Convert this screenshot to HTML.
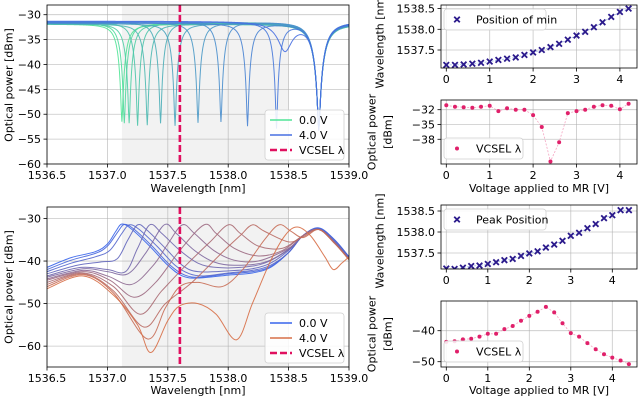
<!DOCTYPE html>
<html><head><meta charset="utf-8"><style>
html,body{margin:0;padding:0;background:#fff;}
svg{display:block;font-family:"DejaVu Sans","Liberation Sans",sans-serif;}
</style></head><body>
<svg id="fig" width="640" height="402" viewBox="0 0 640 402" xmlns="http://www.w3.org/2000/svg"></svg>
<script>
// ---------- data ----------
const tlDipWl  = [1537.12,1537.14,1537.18,1537.25,1537.33,1537.44,1537.56,1537.75,1537.94,1538.16,1538.40,1538.47];
const tlDipMin = [-51.5,-51.8,-51.8,-52.3,-52.2,-51.8,-52.3,-51.7,-51.5,-52.3,-52.6,-37.0];
const tlBase   = [-31.9,-31.7,-31.8,-31.6,-31.9,-31.5,-31.8,-31.6,-31.4,-31.7,-31.5,-31.3];
const tlCommonDipWl = 1538.75;
const tlCommonDipMin = -53;
const blCurves = [
 [[1536.5,-41.5],[1536.7,-39.2],[1536.9,-37.8],[1537.0,-36],[1537.07,-33],[1537.12,-31.3],[1537.2,-32.5],[1537.35,-36.5],[1537.5,-41],[1537.62,-43.5],[1537.75,-44],[1538.0,-43.3],[1538.2,-42.8],[1538.35,-41.5],[1538.5,-38],[1538.62,-34],[1538.75,-32.2],[1538.88,-35],[1539.0,-39]],
 [[1536.5,-42],[1536.7,-39.8],[1536.9,-38.2],[1537.0,-36.5],[1537.09,-33],[1537.14,-31.4],[1537.22,-32.5],[1537.37,-36.5],[1537.52,-41],[1537.64,-43.3],[1537.77,-43.8],[1538.0,-43],[1538.2,-42.5],[1538.35,-41.3],[1538.5,-38],[1538.62,-34],[1538.75,-32.3],[1538.88,-35],[1539.0,-39]],
 [[1536.5,-42.5],[1536.7,-40.5],[1536.9,-39],[1537.02,-37.5],[1537.12,-33.5],[1537.18,-31.5],[1537.26,-32.5],[1537.41,-36.5],[1537.56,-41],[1537.68,-43],[1537.8,-43.5],[1538.0,-42.8],[1538.2,-42.2],[1538.35,-41],[1538.5,-38],[1538.62,-34],[1538.75,-32.4],[1538.88,-35.2],[1539.0,-39.2]],
 [[1536.5,-43],[1536.75,-41],[1536.95,-40.2],[1537.08,-39.5],[1537.17,-35],[1537.25,-31.5],[1537.33,-32.8],[1537.48,-37],[1537.62,-41],[1537.75,-42.5],[1538.0,-42.3],[1538.2,-41.8],[1538.35,-40.5],[1538.5,-37.5],[1538.62,-34],[1538.75,-32.5],[1538.88,-35.5],[1539.0,-39.3]],
 [[1536.5,-43.5],[1536.78,-41.5],[1537.0,-42],[1537.15,-42.5],[1537.25,-37],[1537.35,-31.5],[1537.45,-33.5],[1537.6,-37.5],[1537.75,-40.5],[1537.9,-41.5],[1538.1,-41.5],[1538.3,-40.5],[1538.5,-37.3],[1538.62,-34],[1538.75,-32.5],[1538.88,-35.5],[1539.0,-39.4]],
 [[1536.5,-43.8],[1536.8,-41.8],[1537.0,-42.5],[1537.17,-43],[1537.32,-38],[1537.47,-31.5],[1537.57,-33.5],[1537.72,-37.5],[1537.88,-40.2],[1538.05,-41],[1538.3,-40.3],[1538.5,-37.2],[1538.62,-34],[1538.75,-32.6],[1538.88,-35.6],[1539.0,-39.5]],
 [[1536.5,-44.2],[1536.8,-42.2],[1537.0,-43.5],[1537.2,-45.5],[1537.38,-41],[1537.5,-36],[1537.62,-31.5],[1537.72,-33.5],[1537.88,-37.5],[1538.05,-39.8],[1538.25,-40],[1538.5,-37],[1538.62,-34],[1538.75,-32.6],[1538.88,-35.7],[1539.0,-39.5]],
 [[1536.5,-44.5],[1536.8,-42.5],[1537.02,-44.5],[1537.22,-48.5],[1537.4,-45],[1537.6,-37.5],[1537.8,-31.5],[1537.9,-33.5],[1538.05,-37],[1538.25,-38.8],[1538.45,-37.5],[1538.62,-34],[1538.75,-32.6],[1538.88,-35.8],[1539.0,-39.6]],
 [[1536.5,-45],[1536.8,-42.8],[1537.05,-46],[1537.27,-52.5],[1537.45,-47],[1537.65,-41],[1537.85,-35.5],[1538.0,-31.5],[1538.1,-33.5],[1538.25,-36.5],[1538.45,-37],[1538.62,-34],[1538.75,-32.6],[1538.88,-35.8],[1539.0,-39.6]],
 [[1536.5,-45.5],[1536.8,-43],[1537.05,-47],[1537.3,-55.5],[1537.48,-50],[1537.7,-45],[1537.95,-38],[1538.1,-34],[1538.2,-31.5],[1538.3,-33],[1538.5,-35.5],[1538.62,-34.3],[1538.75,-32.6],[1538.88,-35.8],[1539.0,-39.7]],
 [[1536.5,-46],[1536.8,-43.2],[1537.05,-47.5],[1537.33,-58.3],[1537.48,-51],[1537.6,-46],[1537.75,-45],[1537.95,-46],[1538.12,-42],[1538.3,-35],[1538.42,-31.5],[1538.52,-33],[1538.62,-34.5],[1538.75,-32.6],[1538.88,-35.8],[1539.0,-39.7]],
 [[1536.5,-46.5],[1536.8,-43.5],[1537.05,-48],[1537.25,-55],[1537.36,-61.5],[1537.5,-54],[1537.6,-50.5],[1537.75,-50],[1537.9,-52.5],[1538.07,-58.5],[1538.2,-50],[1538.35,-40],[1538.47,-34],[1538.57,-32],[1538.68,-34],[1538.8,-39],[1538.87,-42],[1538.94,-40.5],[1539.0,-39]]
];
const vcselWl = 1537.6;
const shadeRange = [1537.12, 1538.5];
const voltTop = [0,0.2,0.4,0.6,0.8,1.0,1.2,1.4,1.6,1.8,2.0,2.2,2.4,2.6,2.8,3.0,3.2,3.4,3.6,3.8,4.0,4.2];
const minPos  = [1537.14,1537.14,1537.15,1537.17,1537.19,1537.22,1537.26,1537.29,1537.32,1537.38,1537.44,1537.50,1537.57,1537.65,1537.75,1537.85,1537.94,1538.05,1538.17,1538.30,1538.42,1538.50];
const powTop  = [-31.1,-31.4,-31.5,-31.6,-31.4,-31.2,-32.3,-31.7,-32.0,-32.0,-33.1,-35.5,-42.5,-38.6,-32.7,-32.3,-32.0,-31.4,-31.1,-31.2,-31.9,-30.8];
const voltBot = [0,0.2,0.4,0.6,0.8,1.0,1.2,1.4,1.6,1.8,2.0,2.2,2.4,2.6,2.8,3.0,3.2,3.4,3.6,3.8,4.0,4.2,4.4];
const peakPos = [1537.13,1537.12,1537.15,1537.19,1537.20,1537.24,1537.28,1537.33,1537.36,1537.43,1537.49,1537.54,1537.63,1537.70,1537.79,1537.91,1537.98,1538.09,1538.19,1538.33,1538.40,1538.52,1538.52];
const powBot  = [-43.6,-43.4,-42.8,-42.6,-41.9,-41.0,-41.0,-39.5,-38.5,-36.8,-35.2,-33.9,-32.3,-34.1,-37.6,-40.8,-41.9,-44.0,-46.0,-47.6,-48.7,-49.6,-50.8];
const wlTicks = [1536.5,1537.0,1537.5,1538.0,1538.5,1539.0];
const vTicks = [0,1,2,3,4];

// ---------- helpers ----------
const FS=11;
const NS="http://www.w3.org/2000/svg";
const svg=document.getElementById('fig');
function mk(tag,attrs,parent){const e=document.createElementNS(NS,tag);for(const k in attrs)e.setAttribute(k,attrs[k]);(parent||svg).appendChild(e);return e;}
function lin(d0,d1,r0,r1){return v=>r0+(v-d0)*(r1-r0)/(d1-d0);}
function mix(c0,c1,t){return 'rgb('+c0.map((c,i)=>Math.round(c+(c1[i]-c)*t)).join(',')+')';}
function smoothPath(pts){let d='M'+pts[0][0].toFixed(2)+','+pts[0][1].toFixed(2);
 for(let i=0;i<pts.length-1;i++){const p0=pts[Math.max(0,i-1)],p1=pts[i],p2=pts[i+1],p3=pts[Math.min(pts.length-1,i+2)];
  const c1=[p1[0]+(p2[0]-p0[0])/6,p1[1]+(p2[1]-p0[1])/6],c2=[p2[0]-(p3[0]-p1[0])/6,p2[1]-(p3[1]-p1[1])/6];
  d+='C'+c1[0].toFixed(2)+','+c1[1].toFixed(2)+' '+c2[0].toFixed(2)+','+c2[1].toFixed(2)+' '+p2[0].toFixed(2)+','+p2[1].toFixed(2);}
 return d;}
function fmt(v,dec){return (v<0?'\u2212':'')+Math.abs(v).toFixed(dec);}

function axes(name,box,xs,ys,xt,yt,xdec,ydec,showXLabels){
 const g=mk('g',{});
 
 
 const cid='clip-'+name;
 const cp=mk('clipPath',{id:cid},g);mk('rect',{x:box.x,y:box.y,width:box.w,height:box.h},cp);
 const inner=mk('g',{'clip-path':'url(#'+cid+')'},g);
 const grid=mk('g',{},inner);
 
 
 xt.forEach(t=>{const x=xs(t);mk('line',{x1:x,x2:x,y1:box.y,y2:box.y+box.h,stroke:'#b0b0b0','stroke-width':0.8,opacity:0.7},grid);});
 yt.forEach(t=>{const y=ys(t);mk('line',{x1:box.x,x2:box.x+box.w,y1:y,y2:y,stroke:'#b0b0b0','stroke-width':0.8,opacity:0.7},grid);});
 const frame=mk('rect',{x:box.x,y:box.y,width:box.w,height:box.h,fill:'none',stroke:'#000','stroke-width':0.8},g);
 
 
 xt.forEach(t=>{const x=xs(t);mk('line',{x1:x,x2:x,y1:box.y+box.h,y2:box.y+box.h+3.5,stroke:'#000','stroke-width':0.8},g);
  if(showXLabels){const tx=mk('text',{x:x,y:box.y+box.h+15,'font-size':FS,'text-anchor':'middle',fill:'#000'},g);tx.textContent=fmt(t,xdec);
  
  }});
 yt.forEach(t=>{const y=ys(t);mk('line',{x1:box.x-3.5,x2:box.x,y1:y,y2:y,stroke:'#000','stroke-width':0.8},g);
  const tx=mk('text',{x:box.x-6,y:y+4,'font-size':FS,'text-anchor':'end',fill:'#000'},g);tx.textContent=fmt(t,ydec);
  
  });
 return {g,inner,frame};
}
function text(str,x,y,opts,name){const t=mk('text',Object.assign({x:x,y:y,'font-size':FS,fill:'#000'},opts||{}));t.textContent=str;
 
 return t;}
function vlabel(str,cx,cy,name){return text(str,cx,cy,{'text-anchor':'middle',transform:'rotate(-90 '+cx+' '+cy+')','dominant-baseline':'central'},name);}

function spectrumPanel(name,box,ymin,ymax,yt,drawCurves,legColors){
 const xs=lin(1536.5,1539.0,box.x,box.x+box.w), ys=lin(ymin,ymax,box.y+box.h,box.y);
 const a=axes(name,box,xs,ys,wlTicks,yt,1,0,true);
 const sh=mk('rect',{x:xs(shadeRange[0]),y:box.y,width:xs(shadeRange[1])-xs(shadeRange[0]),height:box.h,fill:'#ececec',opacity:0.7});
 
 
 a.inner.insertBefore(sh,a.inner.firstChild);
 drawCurves(a.inner,xs,ys);
 const vl=mk('line',{x1:xs(vcselWl),x2:xs(vcselWl),y1:box.y,y2:box.y+box.h,stroke:'#e0105f','stroke-width':2.6,'stroke-dasharray':'7,3'},a.inner);
 
 
 a.g.appendChild(a.frame);
 const lx=box.x+box.w-84, ly=box.y+box.h-54;
 const lg=mk('g',{});
 
 
 mk('rect',{x:lx,y:ly,width:79,height:50,rx:3,fill:'#fff','fill-opacity':0.85,stroke:'#d0d0d0','stroke-width':0.8},lg);
 const labels=['0.0 V','4.0 V','VCSEL \u03bb'];
 labels.forEach((l,i)=>{const yy=ly+10+i*15;
  const ln=mk('line',{x1:lx+5,x2:lx+27,y1:yy,y2:yy,stroke:i<2?legColors[i]:'#e0105f','stroke-width':i<2?1.5:2.6,'stroke-dasharray':i<2?'none':'7,3'},lg);
  
  
  const t=mk('text',{x:lx+34,y:yy+4,'font-size':FS,fill:'#000'},lg);t.textContent=l;
  
  });
}

// ---------- top-left ----------
const green=[80,228,150], blueT=[70,110,225];
spectrumPanel('through-spectrum-axes',{x:47,y:5,w:302,h:159},-60,-28.05,[-60,-55,-50,-45,-40,-35,-30],(g,xs,ys)=>{
 const n=tlDipWl.length;
 for(let i=0;i<n;i++){
  const A=1-Math.pow(10,(tlDipMin[i]-tlBase[i])/10), w=(i===n-1)?0.1:0.06;
  const Ac=1-Math.pow(10,(tlCommonDipMin-tlBase[i])/10);
  const pts=[];
  for(let k=0;k<=500;k++){const x=1536.5+k*0.005;
   const u=(x-tlDipWl[i])/w, uc=(x-tlCommonDipWl)/0.09;
   const T=(1-A/(1+u*u))*(1-Ac/(1+uc*uc));
   pts.push([xs(x).toFixed(2),ys(tlBase[i]+10*Math.log10(T)).toFixed(2)]);}
  const p=mk('polyline',{points:pts.map(q=>q.join(',')).join(' '),fill:'none',stroke:mix(green,blueT,i/(n-1)),'stroke-width':1,opacity:0.9},g);
  
  
 }
},[mix(green,blueT,0),mix(green,blueT,1)]);
text('Wavelength [nm]',198,192,{'text-anchor':'middle'},'x-axis-title');
vlabel('Optical power [dBm]',9,85,'y-axis-title');

// ---------- bottom-left ----------
const blueB=[55,100,235], orange=[215,110,70];
spectrumPanel('drop-spectrum-axes',{x:47,y:207,w:302,h:160},-64.9,-27.3,[-60,-50,-40,-30],(g,xs,ys)=>{
 const n=blCurves.length;
 blCurves.forEach((c,i)=>{
  const p=mk('path',{d:smoothPath(c.map(q=>[xs(q[0]),ys(q[1])])),fill:'none',stroke:mix(blueB,orange,i/(n-1)),'stroke-width':1,opacity:0.9},g);
  
  
 });
},[mix(blueB,orange,0),mix(blueB,orange,1)]);
text('Wavelength [nm]',198,394,{'text-anchor':'middle'},'x-axis-title');
vlabel('Optical power [dBm]',9,287,'y-axis-title');

// ---------- right panels ----------
function scatterPanel(name,box,xr,yr,yt,ydec,xv,yv,kind,legendText,legW,showX){
 const xs=lin(xr[0],xr[1],box.x,box.x+box.w), ys=lin(yr[0],yr[1],box.y+box.h,box.y);
 const a=axes(name,box,xs,ys,vTicks,yt,0,ydec,showX);
 const col=kind==='x'?'#2b1a8c':'#e0206a';
 const line=mk('polyline',{points:xv.map((v,i)=>xs(v).toFixed(2)+','+ys(yv[i]).toFixed(2)).join(' '),fill:'none',stroke:kind==='x'?'#7aa0e0':'#f080a8','stroke-width':0.8,'stroke-dasharray':'2,1.5',opacity:0.7},a.inner);
 
 
 function marker(cx,cy,parent){
  if(kind==='x'){return mk('path',{d:'M'+(cx-2.8)+','+(cy-2.8)+'L'+(cx+2.8)+','+(cy+2.8)+'M'+(cx-2.8)+','+(cy+2.8)+'L'+(cx+2.8)+','+(cy-2.8),stroke:col,'stroke-width':1.8,fill:'none'},parent);}
  return mk('circle',{cx:cx,cy:cy,r:2,fill:col},parent);}
 xv.forEach((v,i)=>{const m=marker(xs(v),ys(yv[i]),a.inner);
  
  });
 a.g.appendChild(a.frame);
 const lg=mk('g',{});
 
 
 mk('rect',{x:box.x+3,y:box.y+(kind==='x'?4:box.h-26),width:legW,height:21,rx:3,fill:'#fff','fill-opacity':0.85,stroke:'#d0d0d0','stroke-width':0.8},lg);
 const my=box.y+(kind==='x'?14.5:box.h-15.5);
 marker(box.x+16,my,lg);
 const t=mk('text',{x:box.x+35,y:my+4,'font-size':FS,fill:'#000'},lg);t.textContent=legendText;
 
 
}
const rx=441, rw=196;
const vTopRange=[(441-446.3)/43.4,(441+196-446.3)/43.4];
const vBotRange=[(441-446.3)/41.5,(441+196-446.3)/41.5];
scatterPanel('min-position-axes',{x:rx,y:5,w:rw,h:63},vTopRange,[1537.5-(68-50)/41.4,1537.5+(50-5)/41.4],[1537.5,1538.0,1538.5],1,voltTop,minPos,'x','Position of min',102,true);
scatterPanel('through-power-axes',{x:rx,y:100,w:rw,h:64},vTopRange,[-32-(164-109.7)/4.93,-32+(109.7-100)/4.93],[-38,-35,-32],0,voltTop,powTop,'o','VCSEL \u03bb',79,true);
scatterPanel('peak-position-axes',{x:rx,y:205,w:rw,h:64},vBotRange,[1537.5-(269-253)/42,1537.5+(253-205)/42],[1537.5,1538.0,1538.5],1,voltBot,peakPos,'x','Peak Position',102,true);
scatterPanel('drop-power-axes',{x:rx,y:301,w:rw,h:66},vBotRange,[-40-(367-330.7)/3.1,-40+(330.7-301)/3.1],[-50,-40],0,voltBot,powBot,'o','VCSEL \u03bb',79,true);
text('Voltage applied to MR [V]',539,192,{'text-anchor':'middle'},'x-axis-title');
text('Voltage applied to MR [V]',539,394,{'text-anchor':'middle'},'x-axis-title');
vlabel('Wavelength [nm]',380,41,'y-axis-title');
vlabel('Wavelength [nm]',380,241,'y-axis-title');
vlabel('Optical power',372,132,'y-axis-title');
vlabel('[dBm]',388,132,'y-axis-title-unit');
vlabel('Optical power',372,334,'y-axis-title');
vlabel('[dBm]',388,334,'y-axis-title-unit');
</script>
</body></html>
